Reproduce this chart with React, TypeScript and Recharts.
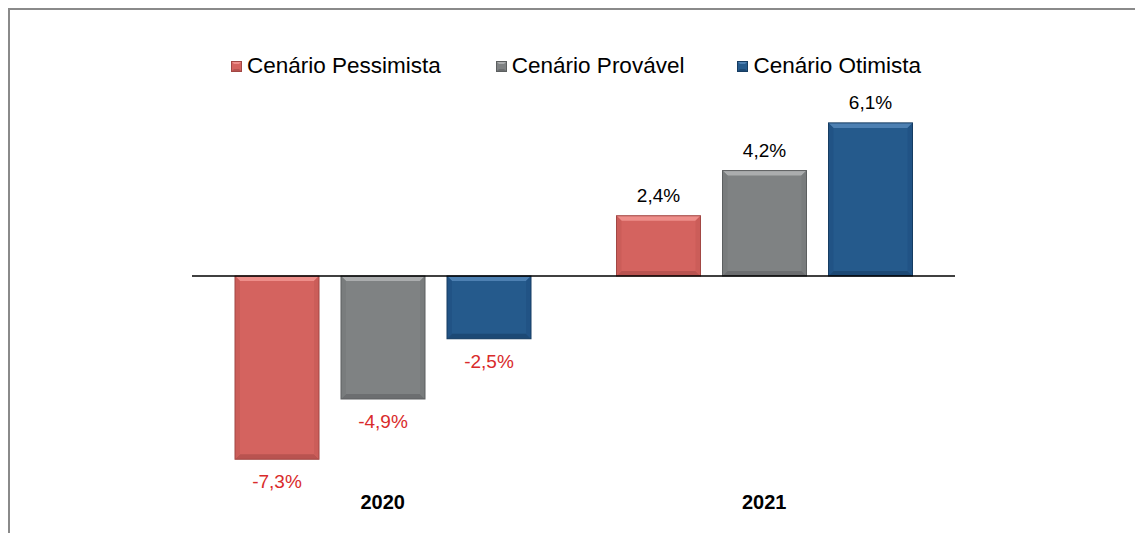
import React from 'react';
import { BarChart, Bar, XAxis, YAxis, ReferenceLine, Legend, LabelList } from 'recharts';

const years = ['2020', '2021'];
const pessimista = [-7.3, 2.4];
const provavel = [-4.9, 4.2];
const otimista = [-2.5, 6.1];
const seriesNames = ['Cenário Pessimista', 'Cenário Provável', 'Cenário Otimista'];

const data = years.map((year, i) => ({
  year,
  pessimista: pessimista[i],
  provavel: provavel[i],
  otimista: otimista[i],
}));

const palettes: Record<string, { main: string; light: string; dark: string; side: string }> = {
  pessimista: { main: '#D4635F', light: '#EE8E8A', dark: '#A24744', side: '#CB5D59' },
  provavel: { main: '#7F8283', light: '#ABADAE', dark: '#5C5F60', side: '#797C7D' },
  otimista: { main: '#255A8C', light: '#4D80B2', dark: '#163C62', side: '#215385' },
};

const keys = ['pessimista', 'provavel', 'otimista'];

const fmt = (v: number) => v.toFixed(1).replace('.', ',') + '%';

function makeShape(key: string) {
  const p = palettes[key];
  return (props: any) => {
    const { x, y, width, height } = props;
    const y0 = height < 0 ? y + height : y;
    const h = Math.abs(height);
    const w = width;
    const b = Math.min(5, h / 2, w / 2);
    return (
      <g>
        <rect x={x} y={y0} width={w} height={h} fill={p.main} />
        <polygon points={`${x},${y0} ${x + w},${y0} ${x + w - b},${y0 + b} ${x + b},${y0 + b}`} fill={p.light} />
        <polygon points={`${x},${y0 + h} ${x + w},${y0 + h} ${x + w - b},${y0 + h - b} ${x + b},${y0 + h - b}`} fill={p.dark} opacity={0.55} />
        <polygon points={`${x},${y0} ${x + b},${y0 + b} ${x + b},${y0 + h - b} ${x},${y0 + h}`} fill={p.side} />
        <polygon points={`${x + w},${y0} ${x + w - b},${y0 + b} ${x + w - b},${y0 + h - b} ${x + w},${y0 + h}`} fill={p.side} />
        <rect x={x} y={y0} width={w} height={h} fill="none" stroke={p.dark} strokeWidth={1} />
      </g>
    );
  };
}

const ValueLabel = (props: any) => {
  const { x, y, width, height, value } = props;
  const top = Math.min(y, y + height);
  const bottom = Math.max(y, y + height);
  const neg = value < 0;
  return (
    <text
      x={x + width / 2}
      y={neg ? bottom + 29 : top - 14}
      textAnchor="middle"
      fontSize={19}
      fill={neg ? '#D92B2B' : '#000'}
    >
      {fmt(value)}
    </text>
  );
};

const LegendSquare = ({ k }: { k: string }) => {
  const p = palettes[k];
  return (
    <svg width={11} height={11} style={{ marginRight: 5, flex: 'none' }}>
      <rect x={0} y={0} width={11} height={11} fill={p.main} />
      <polygon points="0,0 11,0 8,3 3,3" fill={p.light} />
      <polygon points="0,11 11,11 8,8 3,8" fill={p.dark} opacity={0.6} />
      <rect x={0.5} y={0.5} width={10} height={10} fill="none" stroke={p.dark} />
    </svg>
  );
};

const gaps = [55, 53, 0];

const CustomLegend = () => (
  <div style={{ display: 'flex', alignItems: 'center', fontSize: 22.5, color: '#000', whiteSpace: 'nowrap' }}>
    {keys.map((k, i) => (
      <div key={k} style={{ display: 'flex', alignItems: 'center', marginRight: gaps[i] }}>
        <LegendSquare k={k} />
        <span>{seriesNames[i]}</span>
      </div>
    ))}
  </div>
);

export default function App() {
  return (
    <div
      style={{
        position: 'fixed',
        left: 8,
        top: 8,
        width: 1127,
        height: 525,
        overflow: 'hidden',
        background: '#fff',
        fontFamily: '"Liberation Sans", Arial, sans-serif',
      }}
    >
      <div style={{ position: 'absolute', left: 0, top: 0, width: 1127, height: 2, background: '#8a8a8a' }} />
      <div style={{ position: 'absolute', left: 0, top: 0, width: 2, height: 525, background: '#8a8a8a' }} />
      <div style={{ position: 'absolute', left: 0, top: 0 }}>
        <BarChart
          width={1127}
          height={525}
          data={data}
          margin={{ top: 92.3, right: 180, bottom: 26.2, left: 184 }}
          barSize={84}
          barGap={22}
        >
          <XAxis
            dataKey="year"
            axisLine={false}
            tickLine={false}
            height={30}
            tickSize={6}
            tickMargin={12}
            tick={{ fontSize: 20, fontWeight: 'bold', fill: '#000' }}
          />
          <YAxis hide domain={[-8, 7]} />
          <Legend
            layout="horizontal"
            verticalAlign="middle"
            align="center"
            wrapperStyle={{ top: 45, left: 223, width: 'auto' }}
            content={<CustomLegend />}
          />
          {keys.map((k, i) => (
            <Bar key={k} dataKey={k} name={seriesNames[i]} fill={palettes[k].main} shape={makeShape(k)} isAnimationActive={false}>
              <LabelList dataKey={k} content={<ValueLabel />} />
            </Bar>
          ))}
          <ReferenceLine y={0} stroke="#000" strokeWidth={1.5} />
        </BarChart>
      </div>
    </div>
  );
}
